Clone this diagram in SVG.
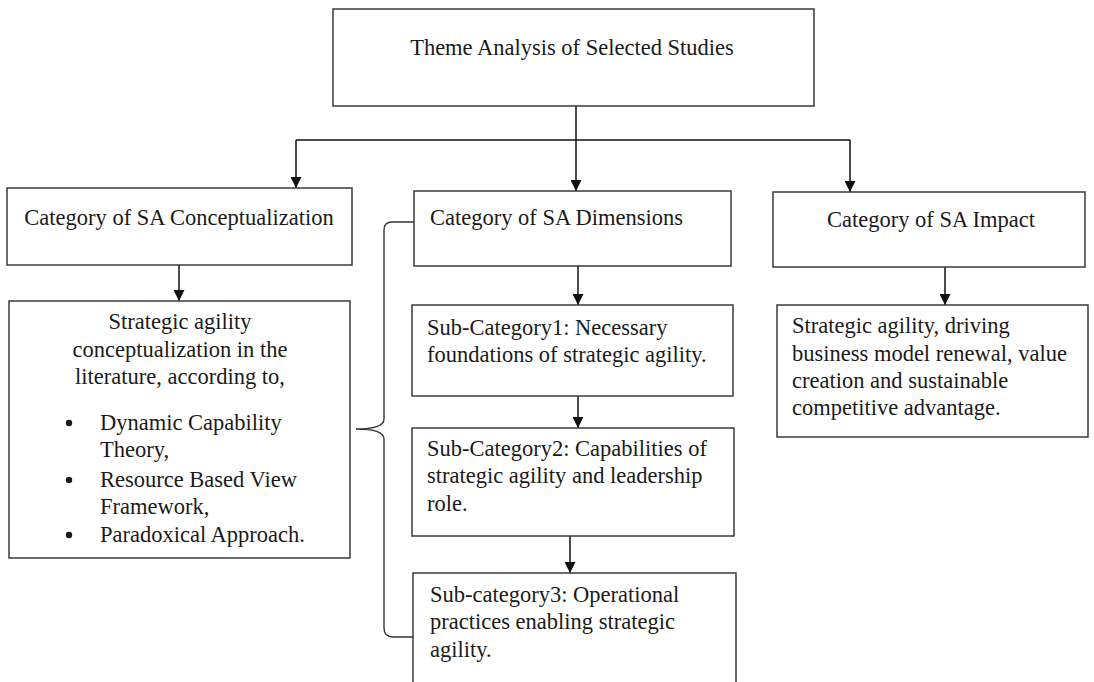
<svg xmlns="http://www.w3.org/2000/svg" width="1094" height="682" viewBox="0 0 1094 682">
  <style>
    .box { fill: #ffffff; stroke: #3a3a3a; stroke-width: 1.5; }
    .lbl { font-family: "Liberation Serif", "Times New Roman", serif; font-size: 22.5px; fill: #1a1a1a; }
    .mid { text-anchor: middle; }
    .wire { fill: none; stroke: #111111; stroke-width: 1.5; }
    .arrow { fill: none; stroke: #111111; stroke-width: 1.5; marker-end: url(#head); }
    .brace { fill: none; stroke: #333333; stroke-width: 1.4; }
  </style>
  <defs>
    <marker id="head" viewBox="0 0 10 10" refX="10" refY="5" markerUnits="userSpaceOnUse" markerWidth="12" markerHeight="11" orient="auto">
      <path d="M0,0 L10,5 L0,10 z" fill="#111111"/>
    </marker>
  </defs>
  <rect width="1094" height="682" fill="#ffffff"/>

  <!-- connectors -->
  <g id="connectors">
    <line class="wire" x1="576" y1="106" x2="576" y2="140"/>
    <polyline class="wire" points="296,140 850,140"/>
    <line class="arrow" x1="576" y1="140" x2="576" y2="191"/>
    <line class="arrow" x1="296" y1="140" x2="296" y2="188"/>
    <line class="arrow" x1="850" y1="140" x2="850" y2="192"/>
    <line class="arrow" x1="179" y1="265" x2="179" y2="301"/>
    <line class="arrow" x1="945" y1="267" x2="945" y2="305"/>
    <line class="arrow" x1="578" y1="266" x2="578" y2="305"/>
    <line class="arrow" x1="578" y1="396" x2="578" y2="428"/>
    <line class="arrow" x1="570" y1="536" x2="570" y2="573"/>
    <!-- curly brace grouping the dimension sub-categories -->
    <path class="brace" d="M414,222 L392,222 Q384,222 384,230 L384,419 Q384,429 356,429 Q384,429 384,439 L384,628 Q384,637 393,637 L413,637"/>
  </g>

  <g id="theme">
    <rect class="box" x="333" y="9" width="481" height="97"/>
    <text class="lbl mid" x="572" y="55">Theme Analysis of Selected Studies</text>
  </g>

  <g id="conceptualization">
    <rect class="box" x="7" y="188" width="345" height="77"/>
    <text class="lbl mid" x="179" y="225">Category of SA Conceptualization</text>
  </g>

  <g id="conceptualization-detail">
    <rect class="box" x="9" y="301" width="341" height="257"/>
    <text class="lbl mid" x="180" y="329">Strategic agility</text>
    <text class="lbl mid" x="180" y="357">conceptualization in the</text>
    <text class="lbl mid" x="180" y="384">literature, according to,</text>
    <circle cx="69" cy="423" r="3.2" fill="#1a1a1a"/>
    <text class="lbl" x="100" y="430">Dynamic Capability</text>
    <text class="lbl" x="100" y="457">Theory,</text>
    <circle cx="69" cy="480" r="3.2" fill="#1a1a1a"/>
    <text class="lbl" x="100" y="487">Resource Based View</text>
    <text class="lbl" x="100" y="514">Framework,</text>
    <circle cx="69" cy="535" r="3.2" fill="#1a1a1a"/>
    <text class="lbl" x="100" y="542">Paradoxical Approach.</text>
  </g>

  <g id="dimensions">
    <rect class="box" x="414" y="191" width="317" height="75"/>
    <text class="lbl" x="430" y="225">Category of SA Dimensions</text>
  </g>

  <g id="sub-category-1">
    <rect class="box" x="412" y="305" width="321" height="91"/>
    <text class="lbl" x="427" y="335">Sub-Category1: Necessary</text>
    <text class="lbl" x="427" y="362">foundations of strategic agility.</text>
  </g>

  <g id="sub-category-2">
    <rect class="box" x="412" y="428" width="322" height="108"/>
    <text class="lbl" x="427" y="456">Sub-Category2: Capabilities of</text>
    <text class="lbl" x="427" y="483">strategic agility and leadership</text>
    <text class="lbl" x="427" y="511">role.</text>
  </g>

  <g id="sub-category-3">
    <rect class="box" x="413" y="573" width="323" height="120"/>
    <text class="lbl" x="430" y="602">Sub-category3: Operational</text>
    <text class="lbl" x="430" y="629">practices enabling strategic</text>
    <text class="lbl" x="430" y="657">agility.</text>
  </g>

  <g id="impact">
    <rect class="box" x="773" y="192" width="312" height="75"/>
    <text class="lbl mid" x="931" y="227">Category of SA Impact</text>
  </g>

  <g id="impact-detail">
    <rect class="box" x="777" y="305" width="311" height="132"/>
    <text class="lbl" x="792" y="333">Strategic agility, driving</text>
    <text class="lbl" x="792" y="361">business model renewal, value</text>
    <text class="lbl" x="792" y="388">creation and sustainable</text>
    <text class="lbl" x="792" y="415">competitive advantage.</text>
  </g>
</svg>
